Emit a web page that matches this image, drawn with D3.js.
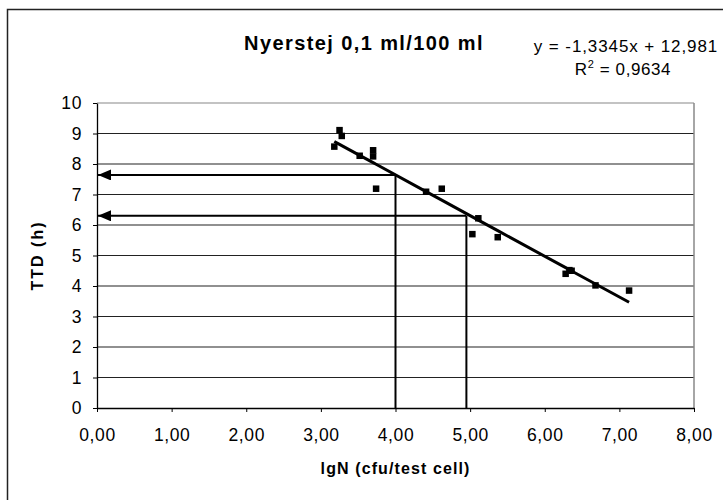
<!DOCTYPE html>
<html>
<head>
<meta charset="utf-8">
<script src="https://cdn.jsdelivr.net/npm/d3@7"></script>
<style>
body { margin: 0; background: #fff; }
text { font-family: Arial, "Liberation Sans", sans-serif; fill: #000; }
</style>
</head>
<body>
<svg class="chart"></svg>
<script>
// Data:

var lgN = [3.18, 3.25, 3.28, 3.52, 3.70, 3.70, 3.74, 4.41, 4.62, 5.03, 5.11, 5.37, 6.28, 6.33, 6.36, 6.68, 7.13];
var ttd = [8.57, 9.11, 8.92, 8.27, 8.45, 8.25, 7.19, 7.09, 7.19, 5.70, 6.22, 5.60, 4.40, 4.52, 4.50, 4.02, 3.85];

var slope = -1.3345,
	intercept = 12.981;

// reading lines (x on lgN axis, y on TTD axis)
var guideX = [4.00, 4.95];
var guideY = [7.64, 6.30];

var xTicks = [0, 1, 2, 3, 4, 5, 6, 7, 8];
var yTicks = [0, 1, 2, 3, 4, 5, 6, 7, 8, 9, 10];

// Chart dimensions:

var W = 723, H = 500;
var plot = {left: 97, right: 694, top: 103, bottom: 408};

var svg = d3.select(".chart")
	.attr("width", W)
	.attr("height", H);

var x = d3.scaleLinear().domain([0, 8]).range([plot.left, plot.right]);
var y = d3.scaleLinear().domain([0, 10]).range([plot.bottom, plot.top]);

var comma = function(v, dec) { return v.toFixed(dec).replace(".", ","); };

// Outer frame:

svg.append("rect")
	.attr("x", 7.5).attr("y", 9.5)
	.attr("width", 740).attr("height", 520)
	.style("fill", "none")
	.style("stroke", "#222")
	.style("stroke-width", 1.5);

// Gridlines and plot border:

svg.append("g")
	.selectAll("line")
	.data(yTicks.slice(1))
	.enter().append("line")
		.attr("x1", plot.left).attr("x2", plot.right)
		.attr("y1", function(d) { return y(d); })
		.attr("y2", function(d) { return y(d); })
		.style("stroke", function(d) { return d == 10 ? "#888" : "#222"; })
		.style("stroke-width", 1.2);

svg.append("line")
	.attr("x1", plot.right).attr("x2", plot.right)
	.attr("y1", plot.top).attr("y2", plot.bottom)
	.style("stroke", "#888")
	.style("stroke-width", 1.5);

// Axes:

var xAxis = d3.axisBottom(x)
	.tickValues(xTicks)
	.tickSizeInner(4)
	.tickSizeOuter(0)
	.tickPadding(17)
	.tickFormat(function(d) { return comma(d, 2); });

var yAxis = d3.axisLeft(y)
	.tickValues(yTicks)
	.tickSizeInner(4)
	.tickSizeOuter(0)
	.tickPadding(11)
	.tickFormat(function(d) { return d; });

var gx = svg.append("g")
	.attr("transform", "translate(0," + plot.bottom + ")")
	.call(xAxis);

var gy = svg.append("g")
	.attr("transform", "translate(" + plot.left + ",0)")
	.call(yAxis);

[gx, gy].forEach(function(g) {
	g.select(".domain").style("stroke", "#000").style("stroke-width", 1.3);
	g.selectAll(".tick line").style("stroke", "#000");
	g.selectAll(".tick text")
		.style("font-family", "Arial, 'Liberation Sans', sans-serif")
		.style("font-size", "17.5px")
		.style("letter-spacing", "0.6px")
		.style("fill", "#000");
});

// Reading lines with arrows:

svg.append("defs").append("marker")
	.attr("id", "arrow")
	.attr("viewBox", "0 0 13 11")
	.attr("refX", 13).attr("refY", 5.5)
	.attr("markerWidth", 13).attr("markerHeight", 11)
	.attr("markerUnits", "userSpaceOnUse")
	.attr("orient", "auto")
	.append("path")
		.attr("d", "M0,0 L13,5.5 L0,11 Z")
		.style("fill", "#000");

guideX.forEach(function(gxv, i) {
	svg.append("line")
		.attr("x1", x(gxv)).attr("x2", x(gxv))
		.attr("y1", y(guideY[i])).attr("y2", y(0))
		.style("stroke", "#000")
		.style("stroke-width", 2);
	svg.append("line")
		.attr("x1", x(gxv)).attr("x2", x(0) + 1)
		.attr("y1", y(guideY[i])).attr("y2", y(guideY[i]))
		.style("stroke", "#000")
		.style("stroke-width", 2)
		.attr("marker-end", "url(#arrow)");
});

// Trend line through the fitted values:

var fitX = lgN.slice().sort(d3.ascending);
var line = d3.line()
	.x(function(d) { return x(d); })
	.y(function(d) { return y(slope * d + intercept); });

svg.append("path")
	.datum(fitX)
	.attr("d", line)
	.style("fill", "none")
	.style("stroke", "#000")
	.style("stroke-width", 3);

// Data points:

var s = 6.5;
svg.append("g")
	.selectAll("rect")
	.data(lgN)
	.enter().append("rect")
		.attr("x", function(d) { return x(d) - s / 2; })
		.attr("y", function(d, i) { return y(ttd[i]) - s / 2; })
		.attr("width", s)
		.attr("height", s)
		.style("fill", "#000");

// Titles and equation:

svg.append("text")
	.attr("x", 364).attr("y", 50)
	.style("text-anchor", "middle")
	.style("font-weight", "bold")
	.style("font-size", "20px")
	.style("letter-spacing", "1.4px")
	.text("Nyerstej 0,1 ml/100 ml");

svg.append("text")
	.attr("x", 626).attr("y", 52)
	.style("text-anchor", "middle")
	.style("font-size", "17px")
	.style("letter-spacing", "0.9px")
	.text("y = " + comma(slope, 4) + "x + " + comma(intercept, 3));

var r2 = svg.append("text")
	.attr("x", 623).attr("y", 75)
	.style("text-anchor", "middle")
	.style("font-size", "17px")
	.style("letter-spacing", "0.6px");
r2.append("tspan").text("R");
r2.append("tspan").attr("dy", -7).style("font-size", "11px").text("2");
r2.append("tspan").attr("dy", 7).text(" = 0,9634");

svg.append("text")
	.attr("x", (plot.left + plot.right) / 2).attr("y", 474)
	.style("text-anchor", "middle")
	.style("font-weight", "bold")
	.style("font-size", "16px")
	.style("letter-spacing", "1.1px")
	.text("lgN (cfu/test cell)");

svg.append("text")
	.attr("transform", "translate(43," + (plot.top + plot.bottom) / 2 + ") rotate(-90)")
	.style("text-anchor", "middle")
	.style("font-weight", "bold")
	.style("font-size", "16px")
	.style("letter-spacing", "2px")
	.text("TTD (h)");
</script>
</body>
</html>
